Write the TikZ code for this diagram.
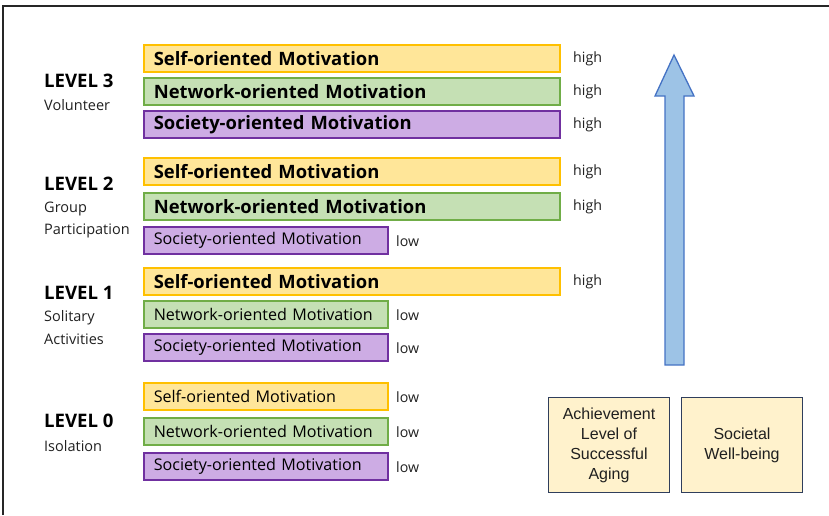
\documentclass[tikz,border=0pt]{standalone}
\usepackage{fontspec}
\setmainfont{Open Sans}
\newfontfamily\arialf{Liberation Sans}
\definecolor{yfill}{HTML}{FFE699}
\definecolor{ydraw}{HTML}{FFC000}
\definecolor{gfill}{HTML}{C5E0B4}
\definecolor{gdraw}{HTML}{70AD47}
\definecolor{pfill}{HTML}{CDACE4}
\definecolor{pdraw}{HTML}{7030A0}
\definecolor{afill}{HTML}{9DC3E6}
\definecolor{adraw}{HTML}{4472C4}
\definecolor{bfill}{HTML}{FFF2CC}
\definecolor{bdraw}{HTML}{2F3E5C}
\definecolor{txt}{HTML}{202020}
\begin{document}
\begin{tikzpicture}[x=1pt,y=-1pt,
  bar/.style={draw, line width=1.6pt, anchor=north west, inner xsep=10pt, inner ysep=0pt,
    minimum height=27pt, align=left, text=black,
    execute at begin node={\hyphenpenalty=10000\exhyphenpenalty=10000}},
  longbar/.style={bar, text width=396pt, font=\fontsize{18.4}{20}\selectfont\bfseries},
  shortbar/.style={bar, text width=224pt, font=\fontsize{16.1}{19}\selectfont},
  selfb/.style={fill=yfill, draw=ydraw},
  netb/.style={fill=gfill, draw=gdraw},
  socb/.style={fill=pfill, draw=pdraw},
  val/.style={anchor=west, inner sep=0pt, text=txt, font=\fontsize{14.2}{17}\selectfont},
  lvl/.style={anchor=west, inner sep=0pt, text=black, font=\fontsize{18.6}{20}\selectfont\bfseries},
  sub/.style={anchor=west, inner sep=0pt, text=txt, font=\fontsize{14.5}{17}\selectfont},
  outbox/.style={draw=bdraw, fill=bfill, line width=1pt, anchor=north west, minimum width=121pt,
    minimum height=95pt, align=center, text=txt, font=\arialf\fontsize{16}{20}\selectfont}
]
\useasboundingbox (0,0) rectangle (829,515);
% frame
\draw[line width=1.3pt, black!85] (3,515) -- (3,6) -- (829,6);

% LEVEL 3
\node[longbar, selfb] (s3) at (143,44) {Self-oriented Motivation};
\node[longbar, netb] (n3) at (143,77) {Network-oriented Motivation};
\node[longbar, socb] (c3) at (143,110) {Society-oriented Motivation};
% LEVEL 2
\node[longbar, selfb] (s2) at (143,157) {Self-oriented Motivation};
\node[longbar, netb] (n2) at (143,192) {Network-oriented Motivation};
\node[shortbar, socb] (c2) at (143,226) {Society-oriented Motivation};
% LEVEL 1
\node[longbar, selfb] (s1) at (143,267) {Self-oriented Motivation};
\node[shortbar, netb] (n1) at (143,300) {Network-oriented Motivation};
\node[shortbar, socb] (c1) at (143,333) {Society-oriented Motivation};
% LEVEL 0
\node[shortbar, selfb] (s0) at (143,382) {Self-oriented Motivation};
\node[shortbar, netb] (n0) at (143,417) {Network-oriented Motivation};
\node[shortbar, socb] (c0) at (143,452) {Society-oriented Motivation};

% values
\node[val] (vs3) at (573,59) {high};
\node[val] (vn3) at (573,92) {high};
\node[val] (vc3) at (573,125) {high};
\node[val] (vs2) at (573,172) {high};
\node[val] (vn2) at (573,207) {high};
\node[val] (vc2) at (396,241) {low};
\node[val] (vs1) at (573,282) {high};
\node[val] (vn1) at (396,315) {low};
\node[val] (vc1) at (396,348) {low};
\node[val] (vs0) at (396,397) {low};
\node[val] (vn0) at (396,432) {low};
\node[val] (vc0) at (396,467) {low};

% level labels
\node[lvl] (l3) at (44,81) {LEVEL 3};
\node[sub] (l3a) at (44,105) {Volunteer};
\node[lvl] (l2) at (44,184) {LEVEL 2};
\node[sub] (l2a) at (44,209) {Group};
\node[sub] (l2b) at (44,231) {Participation};
\node[lvl] (l1) at (44,293) {LEVEL 1};
\node[sub] (l1a) at (44,318) {Solitary};
\node[sub] (l1b) at (44,339) {Activities};
\node[lvl] (l0) at (44,421) {LEVEL 0};
\node[sub] (l0a) at (44,446) {Isolation};

% arrow
\draw[draw=adraw, fill=afill, line width=1.3pt, line join=miter]
  (665,365) -- (665,96) -- (655,96) -- (674,55) -- (694,96) -- (684,96) -- (684,365) -- cycle;

% output boxes
\node[outbox] (ach) at (548,397) {Achievement\\Level of\\Successful\\Aging};
\node[outbox] (soc) at (681,397) {Societal\\Well-being};
\end{tikzpicture}
\end{document}
